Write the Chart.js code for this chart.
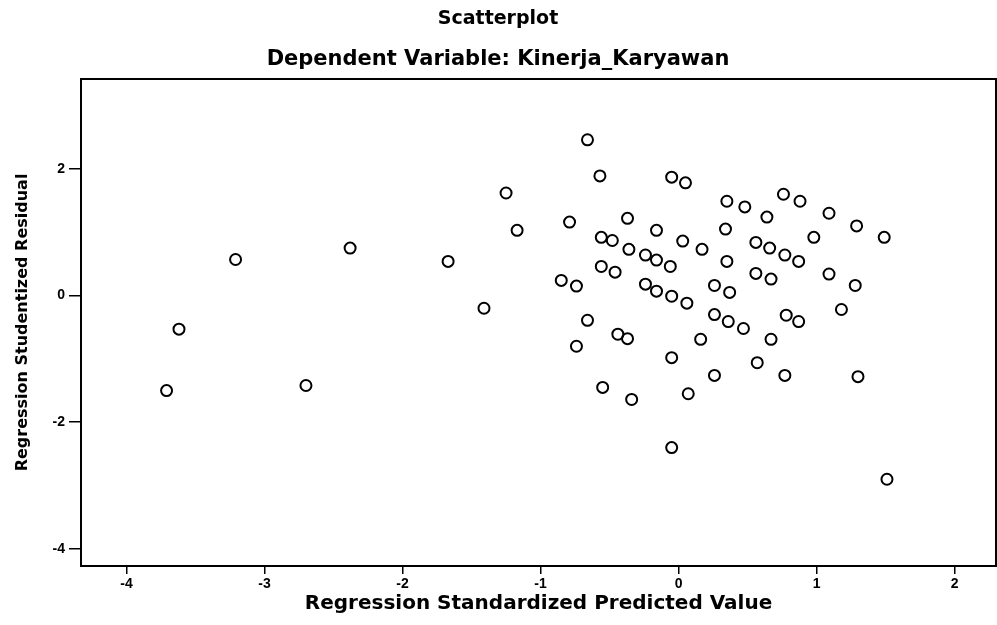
<!DOCTYPE html>
<html><head><meta charset="utf-8">
<script src="https://cdn.jsdelivr.net/npm/chart.js@4"></script>
<style>html,body{margin:0;padding:0;background:#fff;} canvas{display:block;}</style>
</head><body>
<canvas id="c" width="997" height="625"></canvas>
<script>
const titleText = "Scatterplot";
const subtitleText = "Dependent Variable: Kinerja_Karyawan";
const xAxisTitle = "Regression Standardized Predicted Value";
const yAxisTitle = "Regression Studentized Residual";
const xTicks = [-4, -3, -2, -1, 0, 1, 2];
const yTicks = [-4, -2, 0, 2];

// Regression Standardized Predicted Value
const predicted = [
  -3.71, -3.62, -3.21, -2.70, -2.38, -1.67, -1.41, -1.25, -1.17,
  -0.79, -0.85, -0.74, -0.66, -0.66, -0.74, -0.57, -0.56, -0.48, -0.56, -0.46,
  -0.55, -0.44, -0.37, -0.34, -0.37, -0.36, -0.24, -0.16, -0.06, -0.16,
  -0.24, -0.16, -0.05, 0.06, -0.05, 0.05, 0.03, -0.05, -0.05, 0.07,
  0.17, 0.16, 0.26, 0.37, 0.26, 0.36, 0.47, 0.26, 0.35, 0.48,
  0.34, 0.35, 0.64, 0.56, 0.66, 0.77, 0.87, 0.56, 0.67, 0.67,
  0.57, 0.77, 0.76, 0.88, 0.78, 0.87, 0.98, 1.09, 1.09, 1.18,
  1.28, 1.29, 1.49, 1.30, 1.51
];
// Regression Studentized Residual
const residual = [
  -1.50, -0.53, 0.57, -1.42, 0.75, 0.54, -0.20, 1.62, 1.03,
  1.16, 0.24, 0.15, 2.46, -0.39, -0.80, 1.89, 0.92, 0.87, 0.46, 0.37,
  -1.45, -0.61, -0.68, -1.64, 1.22, 0.73, 0.64, 0.56, 0.46, 1.03,
  0.18, 0.07, -0.01, -0.12, 1.87, 1.78, 0.86, -0.98, -2.40, -1.55,
  0.73, -0.69, 0.16, 0.05, -0.30, -0.41, -0.52, -1.26, 1.49, 1.40,
  1.05, 0.54, 1.24, 0.84, 0.75, 0.64, 0.54, 0.35, 0.26, -0.69,
  -1.06, -1.26, 1.60, 1.49, -0.31, -0.41, 0.92, 1.30, 0.34, -0.22,
  0.16, 1.10, 0.92, -1.28, -2.90
];

const points = predicted.map((x, i) => ({ x: x, y: residual[i] }));

const frame = {
  id: 'frame',
  afterDraw(chart) {
    const a = chart.chartArea, ctx = chart.ctx;
    ctx.save();
    ctx.strokeStyle = '#000';
    ctx.lineWidth = 2;
    ctx.strokeRect(a.left, a.top, a.right - a.left, a.bottom - a.top);
    ctx.restore();
  }
};

const tickFont = { family: 'Liberation Sans', size: 14, weight: 'bold' };

new Chart(document.getElementById('c'), {
  type: 'scatter',
  data: {
    datasets: [{
      data: points,
      pointStyle: 'circle',
      pointRadius: 5.5,
      pointHoverRadius: 5.5,
      pointBorderWidth: 2,
      pointBorderColor: '#000',
      pointBackgroundColor: 'rgba(255,255,255,0)'
    }]
  },
  options: {
    responsive: false,
    animation: false,
    devicePixelRatio: 1,
    layout: { autoPadding: false, padding: { left: 0, right: 1, top: 0, bottom: 0 } },
    plugins: {
      legend: { display: false },
      tooltip: { enabled: false },
      title: {
        display: true, text: titleText, color: '#000',
        font: { family: 'DejaVu Sans', size: 19, weight: 'bold', lineHeight: 1.2 },
        padding: { top: 8, bottom: 16 }
      },
      subtitle: {
        display: true, text: subtitleText, color: '#000',
        font: { family: 'DejaVu Sans', size: 21, weight: 'bold', lineHeight: 1.2 },
        padding: { top: 0, bottom: 7 }
      }
    },
    scales: {
      x: {
        type: 'linear', min: -4.33, max: 2.30,
        afterBuildTicks: s => { s.ticks = xTicks.map(v => ({ value: v })); },
        afterFit: s => { s.height = 59; s.paddingLeft = 0; s.paddingRight = 0; },
        border: { display: false },
        grid: { drawOnChartArea: false, drawTicks: true, tickLength: 8, color: '#000', lineWidth: 1.5 },
        ticks: { color: '#000', font: tickFont, padding: 2, maxRotation: 0 },
        title: {
          display: true, text: xAxisTitle, color: '#000',
          font: { family: 'DejaVu Sans', size: 20, weight: 'bold', lineHeight: 1.2 },
          padding: { top: 0, bottom: 9 }
        }
      },
      y: {
        type: 'linear', min: -4.27, max: 3.42,
        afterBuildTicks: s => { s.ticks = yTicks.map(v => ({ value: v })); },
        afterFit: s => { s.width = 81; s.paddingTop = 0; s.paddingBottom = 0; },
        border: { display: false },
        grid: { drawOnChartArea: false, drawTicks: true, tickLength: 12, color: '#000', lineWidth: 1.5 },
        ticks: { color: '#000', font: tickFont, padding: 4 },
        title: {
          display: true, text: yAxisTitle, color: '#000',
          font: { family: 'DejaVu Sans', size: 16, weight: 'bold', lineHeight: 1.2 },
          padding: { top: 13, bottom: 0 }
        }
      }
    }
  },
  plugins: [frame]
});
</script>
</body></html>
